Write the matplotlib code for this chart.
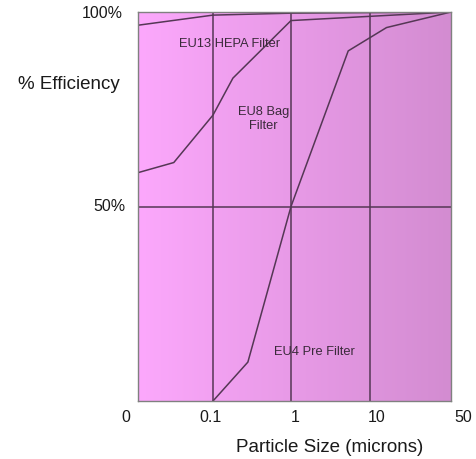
import numpy as np
import matplotlib.pyplot as plt
from matplotlib.colors import LinearSegmentedColormap

plt.rcParams['font.family'] = ['Liberation Sans', 'DejaVu Sans']

# particle size (microns, on the chart's decade scale) and efficiency (%)
hepa_size = [0.01, 0.1, 1, 100]
hepa_eff = [96.6, 99.2, 99.7, 100]

bag_size = [0.01, 0.03, 0.1, 0.18, 1, 100]
bag_eff = [58.7, 61.3, 73.5, 83, 97.8, 100]

pre_size = [0.1, 0.28, 1, 5.3, 16, 100]
pre_eff = [0, 10, 50, 90, 96, 100]

tick_pos = [0.01, 0.1, 1, 10, 100]
tick_labels = ['0', '0.1', '1', '10', '50']

line_col = '#553755'

# the decades in the drawing are not quite evenly spaced
dec_log = [-2, -1, 0, 1, 2]
dec_px = [0, 75, 153, 232, 313]

def fwd(x):
    return np.interp(np.log10(np.clip(x, 1e-6, None)), dec_log, dec_px)

def inv(p):
    return 10 ** np.interp(p, dec_px, dec_log)

fig = plt.figure(figsize=(4.76, 4.59), dpi=100)
ax = fig.add_axes([138/476, 1 - 401/459, (451-138)/476, (401-12)/459])
ax.set_xscale('function', functions=(fwd, inv))
ax.set_xlim(0.01, 100)
ax.set_ylim(0, 100)

# gradient background
cmap = LinearSegmentedColormap.from_list('bg', ['#fca8fc', '#d38cd1'])
grad = np.linspace(0, 1, 256).reshape(1, -1)
ax.imshow(grad, cmap=cmap, aspect='auto', extent=[0, 1, 0, 1],
          transform=ax.transAxes, zorder=0)

for x in tick_pos[1:-1]:
    ax.axvline(x, color=line_col, lw=1.1, zorder=1)
ax.axhline(50, color=line_col, lw=1.1, zorder=1)

ax.plot(hepa_size, hepa_eff, color=line_col, lw=1.1, zorder=2)
ax.plot(bag_size, bag_eff, color=line_col, lw=1.1, zorder=2)
ax.plot(pre_size, pre_eff, color=line_col, lw=1.1, zorder=2)

txt_col = '#3a2a3a'
ax.text(0.294, 0.918, 'EU13 HEPA Filter', fontsize=9.3, color=txt_col,
        ha='center', va='center', transform=ax.transAxes, zorder=3)
ax.text(0.40, 0.725, 'EU8 Bag\nFilter', fontsize=9.3, color=txt_col,
        ha='center', va='center', linespacing=1.25,
        transform=ax.transAxes, zorder=3)
ax.text(0.565, 0.126, 'EU4 Pre Filter', fontsize=9.3, color=txt_col,
        ha='center', va='center', transform=ax.transAxes, zorder=3)

for s in ax.spines.values():
    s.set_color('#808080')
    s.set_linewidth(1)
ax.set_xticks([])
ax.set_yticks([])
ax.minorticks_off()

# axis labels placed like the original graphic
lab_x = [126, 210, 295, 377, 463]
for px, lab in zip(lab_x, tick_labels):
    fig.text(px/476, 1 - 417/459, lab, fontsize=11.5, color='#1a1a1a',
             ha='center', va='center')
fig.text(123/476, 1 - 14/459, '100%', fontsize=11.5, color='#1a1a1a',
         ha='right', va='center')
fig.text(125/476, 1 - 207/459, '50%', fontsize=11.5, color='#1a1a1a',
         ha='right', va='center')
fig.text(69/476, 1 - 85/459, '% Efficiency', fontsize=13.5, color='#1a1a1a',
         ha='center', va='center')
fig.text(330/476, 1 - 447/459, 'Particle Size (microns)', fontsize=13.5,
         color='#1a1a1a', ha='center', va='center')

fig.savefig('out.png', dpi=100)
